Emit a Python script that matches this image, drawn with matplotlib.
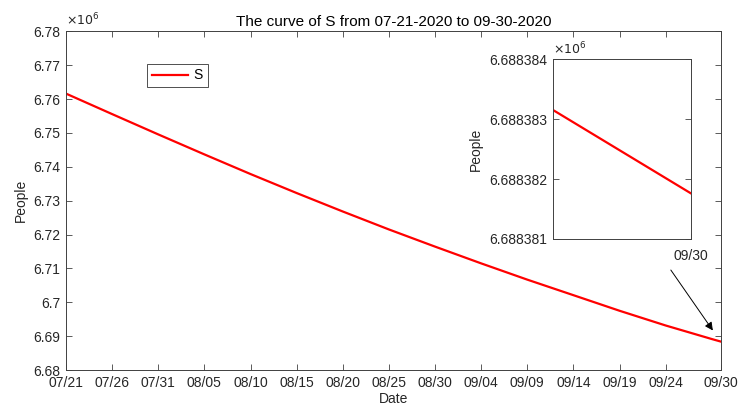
import numpy as np
import matplotlib.pyplot as plt
from matplotlib.ticker import FuncFormatter

plt.rcParams["font.family"] = ["Liberation Sans", "DejaVu Sans"]
plt.rcParams["font.size"] = 10

# days since 07/21/2020 and susceptible population
days = [0, 5, 10, 15, 20, 25, 30, 35, 40, 45, 50, 55, 60, 65, 70, 71]
S = [6761620, 6755570, 6749570, 6743670, 6737870, 6732260, 6726810, 6721510,
     6716440, 6711490, 6706690, 6702100, 6697500, 6693150, 6689150, 6688381.8]

tick_days = [0, 5, 10, 15, 20, 25, 30, 35, 40, 45, 50, 55, 60, 65, 71]
tick_labels = ["07/21", "07/26", "07/31", "08/05", "08/10", "08/15", "08/20",
               "08/25", "08/30", "09/04", "09/09", "09/14", "09/19", "09/24",
               "09/30"]
y_ticks = [6.68e6, 6.69e6, 6.70e6, 6.71e6, 6.72e6, 6.73e6, 6.74e6, 6.75e6,
           6.76e6, 6.77e6, 6.78e6]

# zoomed view at the last day
inset_days = [70.9983, 71.0]
inset_S = [6688383.15, 6688381.76]
inset_yticks = [6688381, 6688382, 6688383, 6688384]

axcol = "#404040"
txtcol = "#262626"


def style(ax):
    ax.tick_params(direction="in", top=True, right=True, length=4,
                   width=0.6, colors=axcol, labelcolor=txtcol, pad=4)
    for sp in ax.spines.values():
        sp.set_color(axcol)
        sp.set_linewidth(0.7)


fig = plt.figure(figsize=(7.41, 4.15), dpi=100)
ax = fig.add_axes([0.0891, 0.1084, 0.8839, 0.8160])
ax.plot(days, S, color="red", lw=1.6, label="S")
ax.set_xlim(0, 71)
ax.set_ylim(6.68e6, 6.78e6)
ax.set_xticks(tick_days)
ax.set_xticklabels(tick_labels)
ax.set_yticks(y_ticks)
ax.yaxis.set_major_formatter(FuncFormatter(lambda v, p: f"{v / 1e6:g}"))
style(ax)
ax.set_xlabel("Date", color=txtcol, labelpad=2)
ax.set_ylabel("People", color=txtcol, labelpad=4)
ax.set_title("The curve of S from 07-21-2020 to 09-30-2020", color="black",
             fontsize=11, pad=4)
ax.text(0.0, 1.008, r"$\times10^{6}$", transform=ax.transAxes, fontsize=9,
        color=txtcol, ha="left", va="bottom")
leg = ax.legend(loc="upper left", bbox_to_anchor=(0.124, 0.905),
                borderaxespad=0, fancybox=False, edgecolor="black",
                handlelength=2.6, borderpad=0.35, handletextpad=0.4)
leg.get_frame().set_linewidth(0.6)

ax.annotate("", xy=(0.990, 0.110), xytext=(0.921, 0.302),
            xycoords="axes fraction", textcoords="axes fraction",
            arrowprops=dict(arrowstyle="-|>", color="black", lw=0.7,
                            mutation_scale=12))

ins = fig.add_axes([0.7463, 0.4241, 0.1862, 0.4337])
ins.plot(inset_days, inset_S, color="red", lw=1.6)
ins.set_xlim(inset_days[0], inset_days[-1])
ins.set_ylim(inset_yticks[0], inset_yticks[-1])
ins.set_xticks([71])
ins.set_xticklabels(["09/30"])
ins.set_yticks(inset_yticks)
ins.yaxis.set_major_formatter(FuncFormatter(lambda v, p: f"{v / 1e6:.6f}"))
style(ins)
ins.tick_params(axis="x", pad=7)
ins.set_ylabel("People", color=txtcol, labelpad=5)
ins.text(0.0, 1.008, r"$\times10^{6}$", transform=ins.transAxes, fontsize=9,
         color=txtcol, ha="left", va="bottom")

fig.savefig("out.png", dpi=100)
